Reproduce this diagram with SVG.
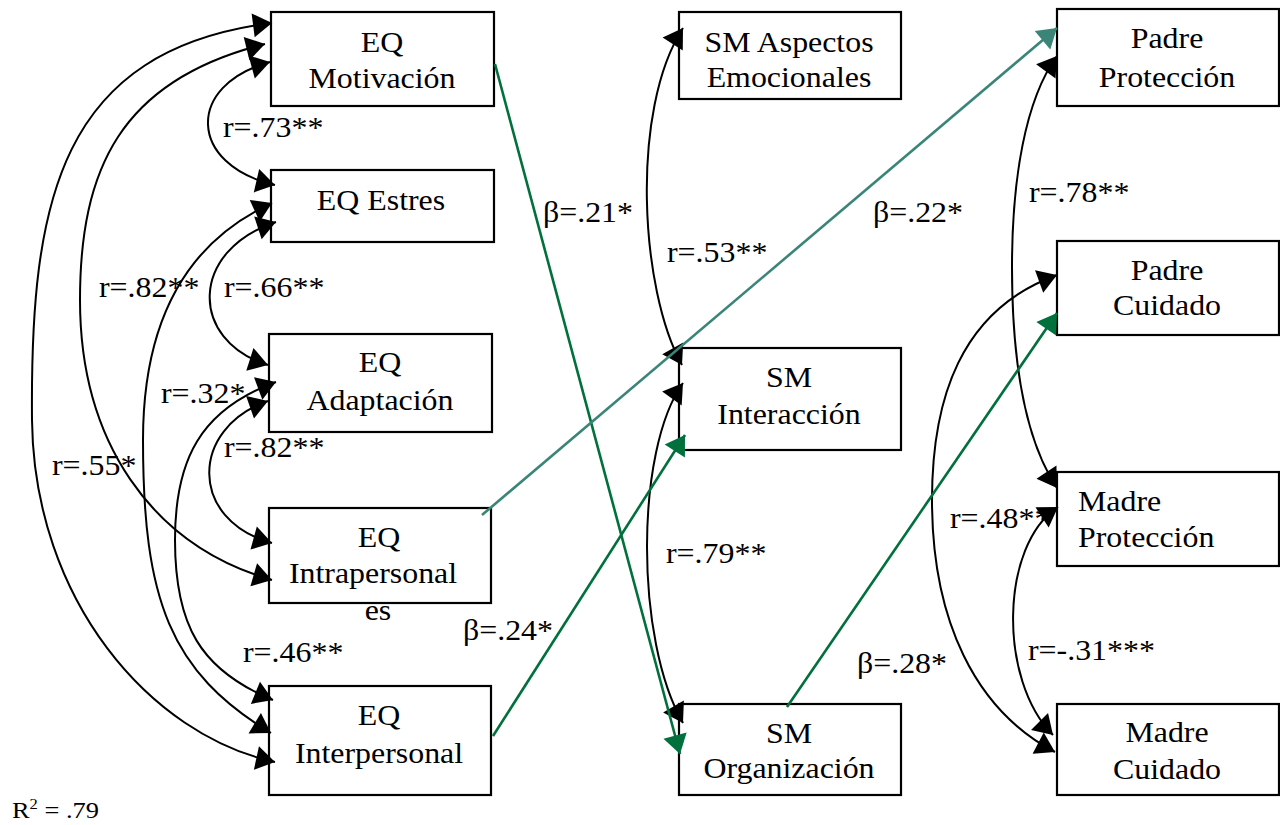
<svg xmlns="http://www.w3.org/2000/svg" width="1280" height="825" viewBox="0 0 1280 825">
<style>
.box{fill:#fff;stroke:#000;stroke-width:2.2}
.t{font-family:"Liberation Serif","Times New Roman",serif;font-size:29px;fill:#000;transform-box:fill-box;transform:scaleX(1.1);transform-origin:left center}
.c{text-anchor:middle;transform-origin:center}
.k{fill:none;stroke:#000;stroke-width:2}
.g{fill:none;stroke:#00703c;stroke-width:2.6}
.tl{fill:none;stroke:#3a8577;stroke-width:2.6}
</style>
<defs>
<marker id="ab" viewBox="-20 -13 21 26" refX="0" refY="0" markerWidth="21" markerHeight="26" markerUnits="userSpaceOnUse" orient="auto-start-reverse"><path d="M0,0 L-19,-12 L-19,12 Z" fill="#000"/></marker>
<marker id="ag" viewBox="-20 -13 21 26" refX="0" refY="0" markerWidth="21" markerHeight="26" markerUnits="userSpaceOnUse" orient="auto"><path d="M0,0 L-19,-12 L-19,12 Z" fill="#00703c"/></marker>
<marker id="at" viewBox="-20 -13 21 26" refX="0" refY="0" markerWidth="21" markerHeight="26" markerUnits="userSpaceOnUse" orient="auto"><path d="M0,0 L-19,-12 L-19,12 Z" fill="#3a8577"/></marker>
</defs>
<rect width="1280" height="825" fill="#fff"/>

<g id="n-eq-motivacion"><rect class="box" x="271" y="12" width="223" height="94"/><text class="t c" x="382" y="52">EQ</text><text class="t c" x="382" y="88">Motivación</text></g>
<g id="n-eq-estres"><rect class="box" x="271" y="170" width="223" height="72"/><text class="t c" x="381" y="210">EQ Estres</text></g>
<g id="n-eq-adaptacion"><rect class="box" x="269" y="334" width="223" height="98"/><text class="t c" x="380" y="372">EQ</text><text class="t c" x="380" y="410">Adaptación</text></g>
<g id="n-eq-intrapersonal"><rect class="box" x="269" y="508" width="222" height="95"/><text class="t c" x="379" y="547">EQ</text><text class="t c" x="373" y="583">Intrapersonal</text><text class="t c" x="378" y="620">es</text></g>
<g id="n-eq-interpersonal"><rect class="box" x="269" y="686" width="222" height="109"/><text class="t c" x="379" y="725">EQ</text><text class="t c" x="379" y="763">Interpersonal</text></g>

<g id="n-sm-aspectos"><rect class="box" x="679" y="12" width="222" height="87"/><text class="t c" x="789" y="52">SM Aspectos</text><text class="t c" x="789" y="87">Emocionales</text></g>
<g id="n-sm-interaccion"><rect class="box" x="679" y="348" width="222" height="102"/><text class="t c" x="789" y="387">SM</text><text class="t c" x="789" y="424">Interacción</text></g>
<g id="n-sm-organizacion"><rect class="box" x="679" y="704" width="222" height="91"/><text class="t c" x="789" y="743">SM</text><text class="t c" x="789" y="778">Organización</text></g>

<g id="n-padre-proteccion"><rect class="box" x="1057" y="9" width="222" height="97"/><text class="t c" x="1167" y="48">Padre</text><text class="t c" x="1167" y="87">Protección</text></g>
<g id="n-padre-cuidado"><rect class="box" x="1057" y="241" width="222" height="94"/><text class="t c" x="1167" y="280">Padre</text><text class="t c" x="1167" y="315">Cuidado</text></g>
<g id="n-madre-proteccion"><rect class="box" x="1057" y="472" width="222" height="94"/><text class="t" x="1078" y="511">Madre</text><text class="t" x="1078" y="547">Protección</text></g>
<g id="n-madre-cuidado"><rect class="box" x="1057" y="704" width="222" height="91"/><text class="t c" x="1167" y="742">Madre</text><text class="t c" x="1167" y="779">Cuidado</text></g>

<g id="connectors">
<path class="k" marker-start="url(#ab)" marker-end="url(#ab)" d="M272,23 C60,50 30,200 32,420 C34,600 150,735 275,762"/>
<path class="k" marker-start="url(#ab)" marker-end="url(#ab)" d="M265,44 C120,80 80,170 80,300 C80,440 150,545 272,580"/>
<path class="k" marker-start="url(#ab)" marker-end="url(#ab)" d="M270,62 C185,85 188,165 275,185"/>
<path class="k" marker-start="url(#ab)" marker-end="url(#ab)" d="M272,203 C180,245 143,330 143,440 C143,600 170,672 271,733"/>
<path class="k" marker-start="url(#ab)" marker-end="url(#ab)" d="M276,222 C190,250 188,340 268,365"/>
<path class="k" marker-start="url(#ab)" marker-end="url(#ab)" d="M276,382 C200,410 175,460 175,540 C175,625 200,670 273,700"/>
<path class="k" marker-start="url(#ab)" marker-end="url(#ab)" d="M268,401 C190,428 188,520 272,543"/>
<path class="k" marker-start="url(#ab)" marker-end="url(#ab)" d="M683,28 C630,110 640,290 682,365"/>
<path class="k" marker-start="url(#ab)" marker-end="url(#ab)" d="M683,383 C635,450 635,640 683,723"/>
<path class="k" marker-start="url(#ab)" marker-end="url(#ab)" d="M1057,56 C1025,100 1012,180 1012,267 C1012,360 1025,440 1057,488"/>
<path class="k" marker-start="url(#ab)" marker-end="url(#ab)" d="M1057,275 C960,310 932,400 932,500 C932,620 975,710 1055,752"/>
<path class="k" marker-start="url(#ab)" marker-end="url(#ab)" d="M1058,507 C1000,545 998,680 1053,735"/>
<path class="g" marker-end="url(#ag)" d="M495,64 L680,754"/>
<path class="tl" marker-end="url(#at)" d="M482,515 L1057,28"/>
<path class="g" marker-end="url(#ag)" d="M493,736 L685,435"/>
<path class="g" marker-end="url(#ag)" d="M787,707 L1057,313"/>
</g>

<g id="labels">
<text class="t" x="223" y="137">r=.73**</text>
<text class="t" x="99" y="297">r=.82**</text>
<text class="t" x="224" y="297">r=.66**</text>
<text class="t" x="161" y="403">r=.32*</text>
<text class="t" x="224" y="457">r=.82**</text>
<text class="t" x="52" y="475">r=.55*</text>
<text class="t" x="243" y="662">r=.46**</text>
<text class="t" x="463" y="640">β=.24*</text>
<text class="t" x="543" y="222">β=.21*</text>
<text class="t" x="667" y="262">r=.53**</text>
<text class="t" x="873" y="222">β=.22*</text>
<text class="t" x="666" y="563">r=.79**</text>
<text class="t" x="857" y="673">β=.28*</text>
<text class="t" x="1029" y="202">r=.78**</text>
<text class="t" x="950" y="528">r=.48**</text>
<text class="t" x="1028" y="660">r=-.31***</text>
<text class="t" x="12" y="818" style="font-size:24px">R<tspan font-size="15" dy="-9">2</tspan><tspan dy="9"> = .79</tspan></text>
</g>
</svg>
